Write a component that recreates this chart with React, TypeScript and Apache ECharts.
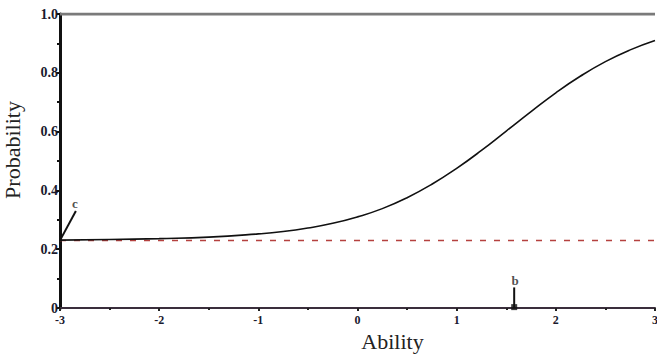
import React, { useEffect, useRef } from "react";
import * as echarts from "echarts";

const abilityValues = [-3, -2.5, -2, -1.5, -1, -0.75, -0.5, -0.25, 0, 0.25, 0.5, 0.75, 1, 1.25, 1.5, 1.75, 2, 2.25, 2.5, 2.75, 3];
const probabilityValues = [0.231, 0.233, 0.236, 0.241, 0.252, 0.26, 0.272, 0.288, 0.31, 0.338, 0.375, 0.421, 0.475, 0.536, 0.602, 0.668, 0.732, 0.789, 0.838, 0.878, 0.91];
const guessingC = 0.23;
const difficultyB = 1.58;
const xRange = [-3, 3];
const yRange = [0, 1];

const serif = "'Liberation Serif', 'DejaVu Serif', serif";

export default function App() {
  const ref = useRef<HTMLDivElement>(null);
  useEffect(() => {
    if (!ref.current) return;
    const chart = echarts.init(ref.current, undefined, { renderer: "svg" });
    const curve = abilityValues.map((x, i) => [x, probabilityValues[i]]);
    chart.setOption({
      animation: false,
      backgroundColor: "#fff",
      grid: { left: 60, right: 2, top: 14, bottom: 49, containLabel: false, outerBoundsMode: "none" },
      xAxis: {
        type: "value",
        min: xRange[0],
        max: xRange[1],
        interval: 1,
        name: "Ability",
        nameLocation: "middle",
        nameGap: 21,
        nameTextStyle: { fontFamily: serif, fontSize: 22, color: "#222", padding: [0, 0, 0, 70] },
        axisLine: { onZero: false, lineStyle: { color: "#3a2e3c", width: 2 } },
        axisTick: { show: true, length: 3, lineStyle: { color: "#222", width: 2 } },
        minorTick: { show: true, splitNumber: 2, length: 2, lineStyle: { color: "#222", width: 2 } },
        axisLabel: { fontFamily: serif, fontSize: 12, fontWeight: "bold", color: "#1a1a2e", margin: 6 },
        splitLine: { show: false },
      },
      yAxis: {
        type: "value",
        min: yRange[0],
        max: yRange[1],
        interval: 0.2,
        name: "Probability",
        nameLocation: "middle",
        nameGap: 37,
        nameRotate: 90,
        nameTextStyle: { fontFamily: serif, fontSize: 22, color: "#222", padding: [0, 0, 0, 22] },
        axisLine: { show: true, onZero: false, lineStyle: { color: "#111", width: 3 } },
        axisTick: { show: true, length: 4, lineStyle: { color: "#111", width: 2 } },
        minorTick: { show: true, splitNumber: 2, length: 3, lineStyle: { color: "#111", width: 2 } },
        axisLabel: {
          fontFamily: serif,
          fontSize: 14,
          fontWeight: "bold",
          color: "#1a1a2e",
          margin: 2,
          formatter: (v: number) => (v === 0 ? "0" : v.toFixed(1)),
        },
        splitLine: { show: false },
      },
      series: [
        {
          type: "line",
          data: [[xRange[0], 1], [xRange[1], 1]],
          symbol: "none",
          lineStyle: { color: "#7a7a7a", width: 3 },
          silent: true,
        },
        {
          type: "line",
          data: [[xRange[0], guessingC], [xRange[1], guessingC]],
          symbol: "none",
          lineStyle: { color: "#b5413f", width: 1.5, type: [6, 8] },
        },
        {
          type: "line",
          data: curve,
          smooth: true,
          symbol: "none",
          lineStyle: { color: "#111", width: 1.6 },
        },
        {
          type: "line",
          data: [[xRange[0], guessingC], [-2.84, 0.33]],
          symbol: "none",
          lineStyle: { color: "#111", width: 2 },
        },
        {
          type: "line",
          data: [[difficultyB, 0], [difficultyB, 0.07]],
          symbol: "none",
          lineStyle: { color: "#111", width: 2 },
        },
        {
          type: "scatter",
          data: [[difficultyB, 0.003]],
          symbol: "rect",
          symbolSize: 6,
          itemStyle: { color: "#111" },
        },
        {
          type: "scatter",
          data: [
            { value: [-2.85, 0.355], name: "c" },
            { value: [difficultyB + 0.01, 0.095], name: "b" },
          ],
          symbolSize: 0,
          label: {
            show: true,
            position: "inside",
            formatter: (p: any) => p.name,
            fontFamily: serif,
            fontSize: 13,
            fontWeight: "bold",
            color: "#222",
          },
        },
      ],
    });
    return () => chart.dispose();
  }, []);
  return <div ref={ref} style={{ position: "fixed", left: 0, top: 0, width: 657, height: 357 }} />;
}
